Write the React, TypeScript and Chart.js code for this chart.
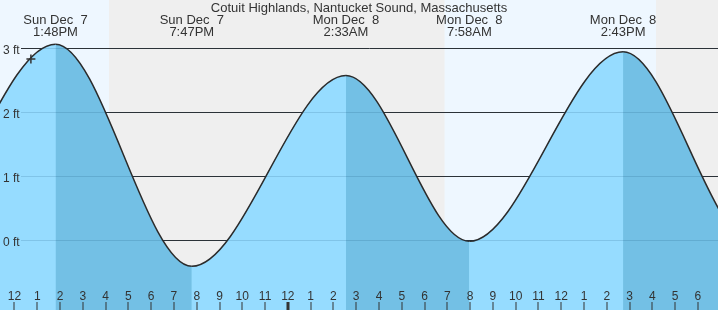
import React, { useEffect, useRef } from "react";
import { Chart, registerables } from "chart.js";

Chart.register(...registerables);

const TITLE = "Cotuit Highlands, Nantucket Sound, Massachusetts";

// hours since Sun Dec 7, 12:00 PM
const tideHours = [-11.2, -4.95, 1.8, 7.783, 14.55, 19.967, 26.717, 32.5, 38.9];
const tideFeet = [2.7, 0.02, 3.08, -0.39, 2.59, 0.0, 2.96, -0.05, 2.6];

const extremeHours = [1.8, 7.783, 14.55, 19.967, 26.717];
const extremeDays = ["Sun Dec  7", "Sun Dec  7", "Mon Dec  8", "Mon Dec  8", "Mon Dec  8"];
const extremeTimes = ["1:48PM", "7:47PM", "2:33AM", "7:58AM", "2:43PM"];

const hourTicks = [
  0, 1, 2, 3, 4, 5, 6, 7, 8, 9, 10, 11, 12, 13, 14, 15, 16, 17, 18, 19, 20, 21, 22, 23, 24, 25,
  26, 27, 28, 29, 30,
];
const hourLabels = [
  "12", "1", "2", "3", "4", "5", "6", "7", "8", "9", "10", "11",
  "12", "1", "2", "3", "4", "5", "6", "7", "8", "9", "10", "11",
  "12", "1", "2", "3", "4", "5", "6",
];
const midnightHours = [12];

const daylightStart = [-1, 18.88];
const daylightEnd = [4.15, 28.16];

const feetTicks = [0, 1, 2, 3];
const feetLabels = ["0 ft", "1 ft", "2 ft", "3 ft"];

const nowHour = [0.72];
const nowFeet = [2.85];

const X_MIN = -0.6365;
const X_MAX = 30.883;
const Y_MIN = -1.073;
const Y_MAX = 3.77;

const LIGHT_WATER = "rgb(150,220,255)";
const DARK_WATER = "rgb(115,192,229)";
const DAY_BG = "rgb(238,247,255)";
const NIGHT_BG = "rgb(239,239,239)";
const INK = "#333333";
const FONT = "'Liberation Sans', Arial, sans-serif";

export default function App() {
  const canvasRef = useRef<HTMLCanvasElement | null>(null);

  useEffect(() => {
    const canvas = canvasRef.current;
    if (!canvas) return;

    const tidePoints = tideHours.map((h, i) => ({ x: h, y: tideFeet[i] }));
    const nowPoints = nowHour.map((h, i) => ({ x: h, y: nowFeet[i] }));

    const decor = {
      id: "tideDecor",
      beforeDatasetsDraw(chart: any) {
        const { ctx, chartArea } = chart;
        const xs = chart.scales.x;
        const ys = chart.scales.y;
        ctx.save();
        ctx.fillStyle = NIGHT_BG;
        ctx.fillRect(chartArea.left, chartArea.top, chartArea.right - chartArea.left, chartArea.bottom - chartArea.top);
        ctx.fillStyle = DAY_BG;
        daylightStart.forEach((s, i) => {
          const x0 = Math.max(chartArea.left, xs.getPixelForValue(s));
          const x1 = Math.min(chartArea.right, xs.getPixelForValue(daylightEnd[i]));
          ctx.fillRect(x0, chartArea.top, x1 - x0, chartArea.bottom - chartArea.top);
        });
        ctx.strokeStyle = INK;
        ctx.lineWidth = 1;
        feetTicks.forEach((v) => {
          const y = Math.round(ys.getPixelForValue(v)) - 0.5;
          ctx.beginPath();
          ctx.moveTo(21, y);
          ctx.lineTo(chartArea.right, y);
          ctx.stroke();
        });
        ctx.restore();
      },
      afterDatasetsDraw(chart: any) {
        const { ctx, chartArea } = chart;
        const xs = chart.scales.x;
        const ys = chart.scales.y;
        ctx.save();
        // faint grid under the water
        ctx.strokeStyle = "rgba(0,50,90,0.14)";
        ctx.lineWidth = 1;
        feetTicks.forEach((v) => {
          const y = Math.round(ys.getPixelForValue(v)) - 0.5;
          ctx.beginPath();
          ctx.moveTo(21, y);
          ctx.lineTo(chartArea.right, y);
          ctx.stroke();
        });
        ctx.fillStyle = INK;
        // y labels
        ctx.font = `12px ${FONT}`;
        ctx.textAlign = "left";
        ctx.textBaseline = "alphabetic";
        feetTicks.forEach((v, i) => {
          const y = ys.getPixelForValue(v);
          ctx.fillText(feetLabels[i], 3, y + 4.7);
        });
        // hour labels & ticks
        ctx.textAlign = "center";
        hourTicks.forEach((h, i) => {
          const x = xs.getPixelForValue(h);
          ctx.fillText(hourLabels[i], x, 300);
          const thick = midnightHours.includes(h);
          ctx.fillRect(Math.round(x) - (thick ? 1.5 : 0.5), 302, thick ? 3 : 1, 8);
        });
        // extreme labels
        ctx.font = `13px ${FONT}`;
        extremeHours.forEach((h, i) => {
          const x = xs.getPixelForValue(h);
          ctx.fillText(extremeDays[i], x, 24);
          ctx.fillText(extremeTimes[i], x, 36);
        });
        // title
        ctx.fillText(TITLE, (chartArea.left + chartArea.right) / 2, 12);
        ctx.restore();
      },
    };

    const chart = new Chart(canvas, {
      type: "line",
      data: {
        datasets: [
          {
            label: "now",
            data: nowPoints,
            showLine: false,
            pointStyle: "cross",
            pointRadius: 4.5,
            pointBorderWidth: 1.5,
            pointBorderColor: INK,
            pointBackgroundColor: INK,
            borderColor: INK,
          },
          {
            label: "tide",
            data: tidePoints,
            borderColor: "#2b2b2b",
            borderWidth: 1.5,
            backgroundColor: LIGHT_WATER,
            fill: "start",
            pointRadius: 0,
            cubicInterpolationMode: "monotone",
            capBezierPoints: false,
            segment: {
              backgroundColor: (c: any) => (c.p1.parsed.y < c.p0.parsed.y ? DARK_WATER : LIGHT_WATER),
            },
          } as any,
          {
            label: "water underlay",
            data: tidePoints,
            borderWidth: 0,
            borderColor: "rgba(0,0,0,0)",
            backgroundColor: LIGHT_WATER,
            fill: "start",
            pointRadius: 0,
            cubicInterpolationMode: "monotone",
            capBezierPoints: false,
          } as any,
        ],
      },
      options: {
        animation: false,
        responsive: false,
        maintainAspectRatio: false,
        layout: { padding: 0, autoPadding: false },
        events: [],
        plugins: {
          legend: { display: false },
          title: { display: false },
          tooltip: { enabled: false },
        },
        scales: {
          x: { type: "linear", display: false, min: X_MIN, max: X_MAX, bounds: "data" },
          y: { type: "linear", display: false, min: Y_MIN, max: Y_MAX },
        },
      },
      plugins: [decor],
    });

    return () => chart.destroy();
  }, []);

  return (
    <div style={{ position: "fixed", left: 0, top: 0, width: 718, height: 310 }}>
      <canvas ref={canvasRef} width={718} height={310} style={{ display: "block", width: 718, height: 310 }} />
    </div>
  );
}
